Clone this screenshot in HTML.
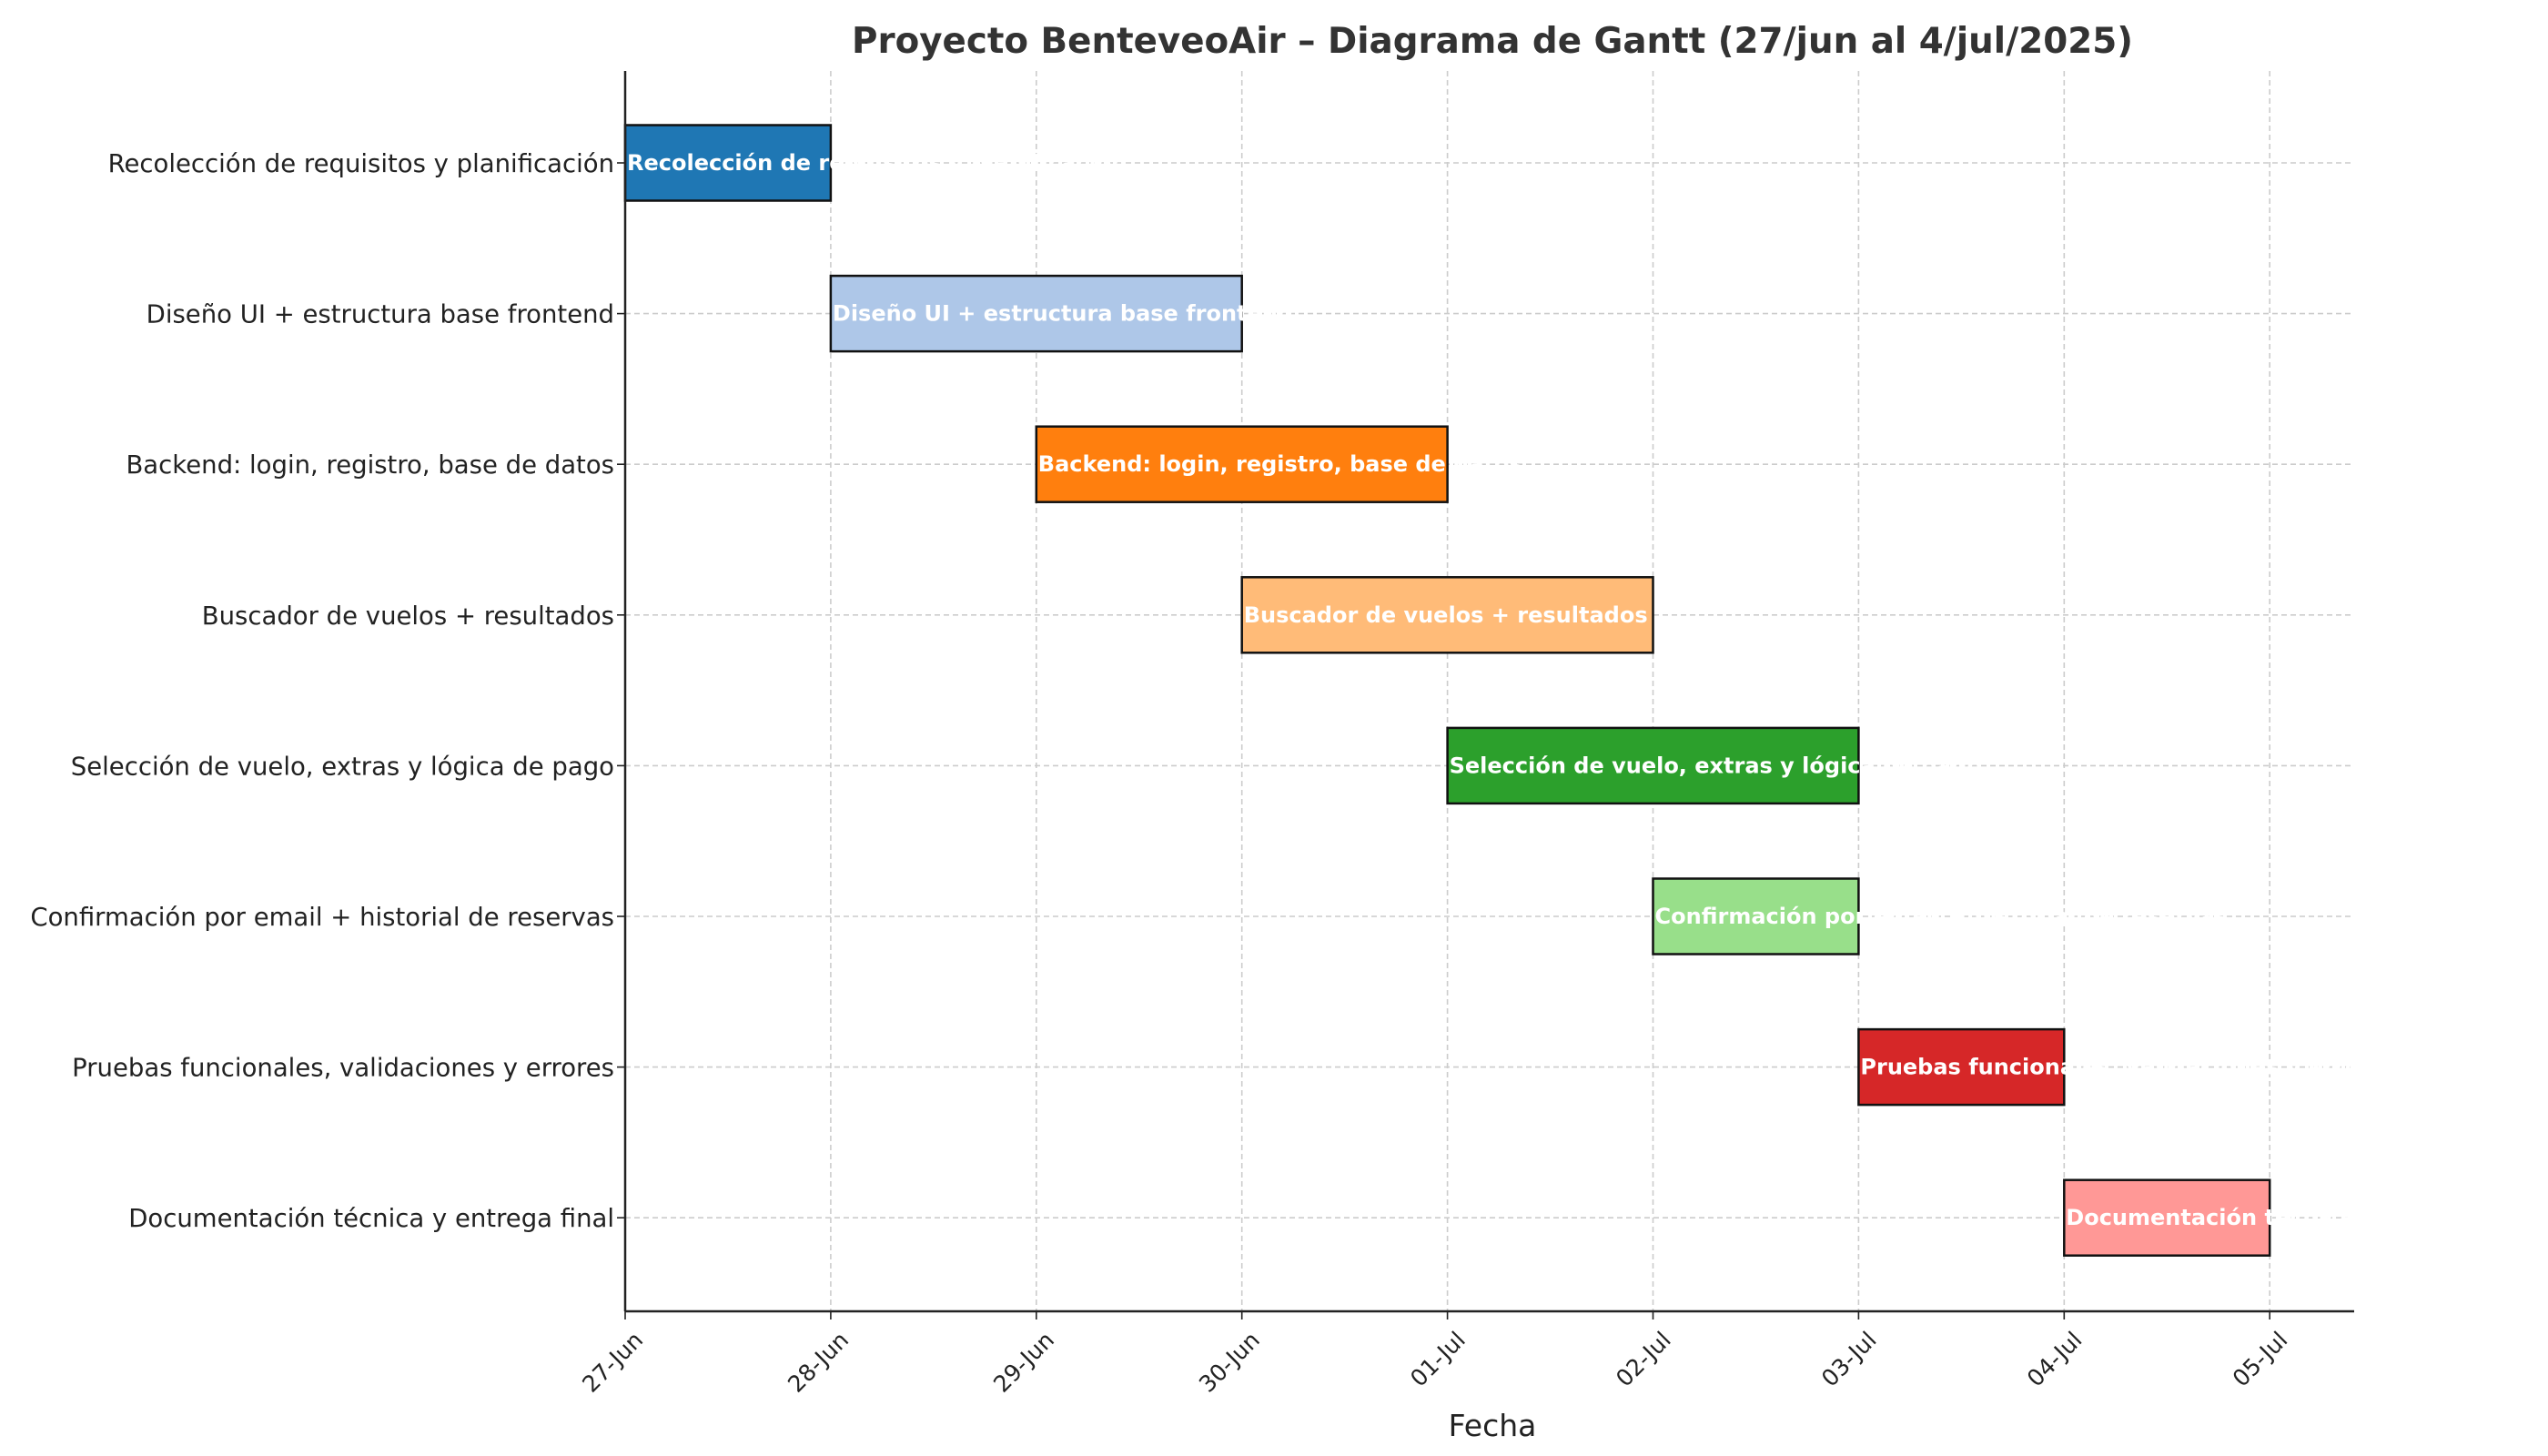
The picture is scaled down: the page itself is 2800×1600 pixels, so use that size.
<!DOCTYPE html>
<html><head><meta charset="utf-8"><style>
html,body{margin:0;padding:0;background:#fff;}
svg{display:block;font-family:"DejaVu Sans","Liberation Sans",sans-serif;}
</style></head><body>
<svg id="chart" width="2800" height="1600" viewBox="0 0 2800 1600" xmlns="http://www.w3.org/2000/svg">
<text x="1640" y="58" text-anchor="middle" font-size="38.8" font-weight="bold" fill="#333">Proyecto BenteveoAir – Diagrama de Gantt (27/jun al 4/jul/2025)</text>
<g id="grid"></g>
<g id="bars"></g>
<g id="axes"></g>
<text x="1640" y="1578" text-anchor="middle" font-size="33" fill="#222">Fecha</text>
</svg>
<script>
const tasks = ["Recolección de requisitos y planificación","Diseño UI + estructura base frontend","Backend: login, registro, base de datos","Buscador de vuelos + resultados","Selección de vuelo, extras y lógica de pago","Confirmación por email + historial de reservas","Pruebas funcionales, validaciones y errores","Documentación técnica y entrega final"];
const starts = [0,1,2,3,4,5,6,7];
const durations = [1,2,2,2,2,1,1,1];
const colors = ["#1f77b4","#aec7e8","#ff7f0e","#ffbb78","#2ca02c","#98df8a","#d62728","#ff9896"];
const tickLabels = ["27-Jun","28-Jun","29-Jun","30-Jun","01-Jul","02-Jul","03-Jul","04-Jul","05-Jul"];

const NS="http://www.w3.org/2000/svg";
const L=687, R=2587, T=78, B=1441, dayW=225.9, row0=179, rowH=165.6, barH=83;
const x = d => L + d*dayW;
const y = i => row0 + i*rowH;
function mk(tag, attrs, parent){const e=document.createElementNS(NS,tag);for(const k in attrs)e.setAttribute(k,attrs[k]);parent.appendChild(e);return e;}
const grid=document.getElementById('grid'), bars=document.getElementById('bars'), axes=document.getElementById('axes');

tickLabels.forEach((t,i)=>{
  const g=mk('line',{x1:x(i),x2:x(i),y1:T,y2:B,stroke:'#cccccc','stroke-width':1.6,'stroke-dasharray':'6,4'},grid);
  
  
  const tk=mk('line',{x1:x(i),x2:x(i),y1:B,y2:B+9,stroke:'#222','stroke-width':1.6},axes);
  
  
  const lab=mk('text',{x:x(i)+8,y:B+20,'font-size':25,fill:'#222','text-anchor':'end',transform:`rotate(-45 ${x(i)+8} ${B+20})`,'dominant-baseline':'hanging'},axes);
  lab.textContent=t;
  
  
});
tasks.forEach((t,i)=>{
  const g=mk('line',{x1:L,x2:R,y1:y(i),y2:y(i),stroke:'#cccccc','stroke-width':1.6,'stroke-dasharray':'6,4'},grid);
  
  
  const tk=mk('line',{x1:L-9,x2:L,y1:y(i),y2:y(i),stroke:'#222','stroke-width':1.6},axes);
  
  
  const lab=mk('text',{x:L-12,y:y(i)+10,'font-size':27.5,fill:'#222','text-anchor':'end'},axes);
  lab.textContent=t;
  
  
  const r=mk('rect',{x:x(starts[i]),y:y(i)-barH/2,width:durations[i]*dayW,height:barH,fill:colors[i],stroke:'#111','stroke-width':2.5},bars);
  
  
  const bl=mk('text',{x:x(starts[i])+2,y:y(i)+8,'font-size':24,'font-weight':'bold',fill:'#fff'},bars);
  bl.textContent=t;
  
  
});
const ax1=mk('line',{x1:L,x2:L,y1:T,y2:B,stroke:'#222','stroke-width':2.5},axes);


const ax2=mk('line',{x1:L,x2:R,y1:B,y2:B,stroke:'#222','stroke-width':2.5},axes);


</script>
</body></html>
